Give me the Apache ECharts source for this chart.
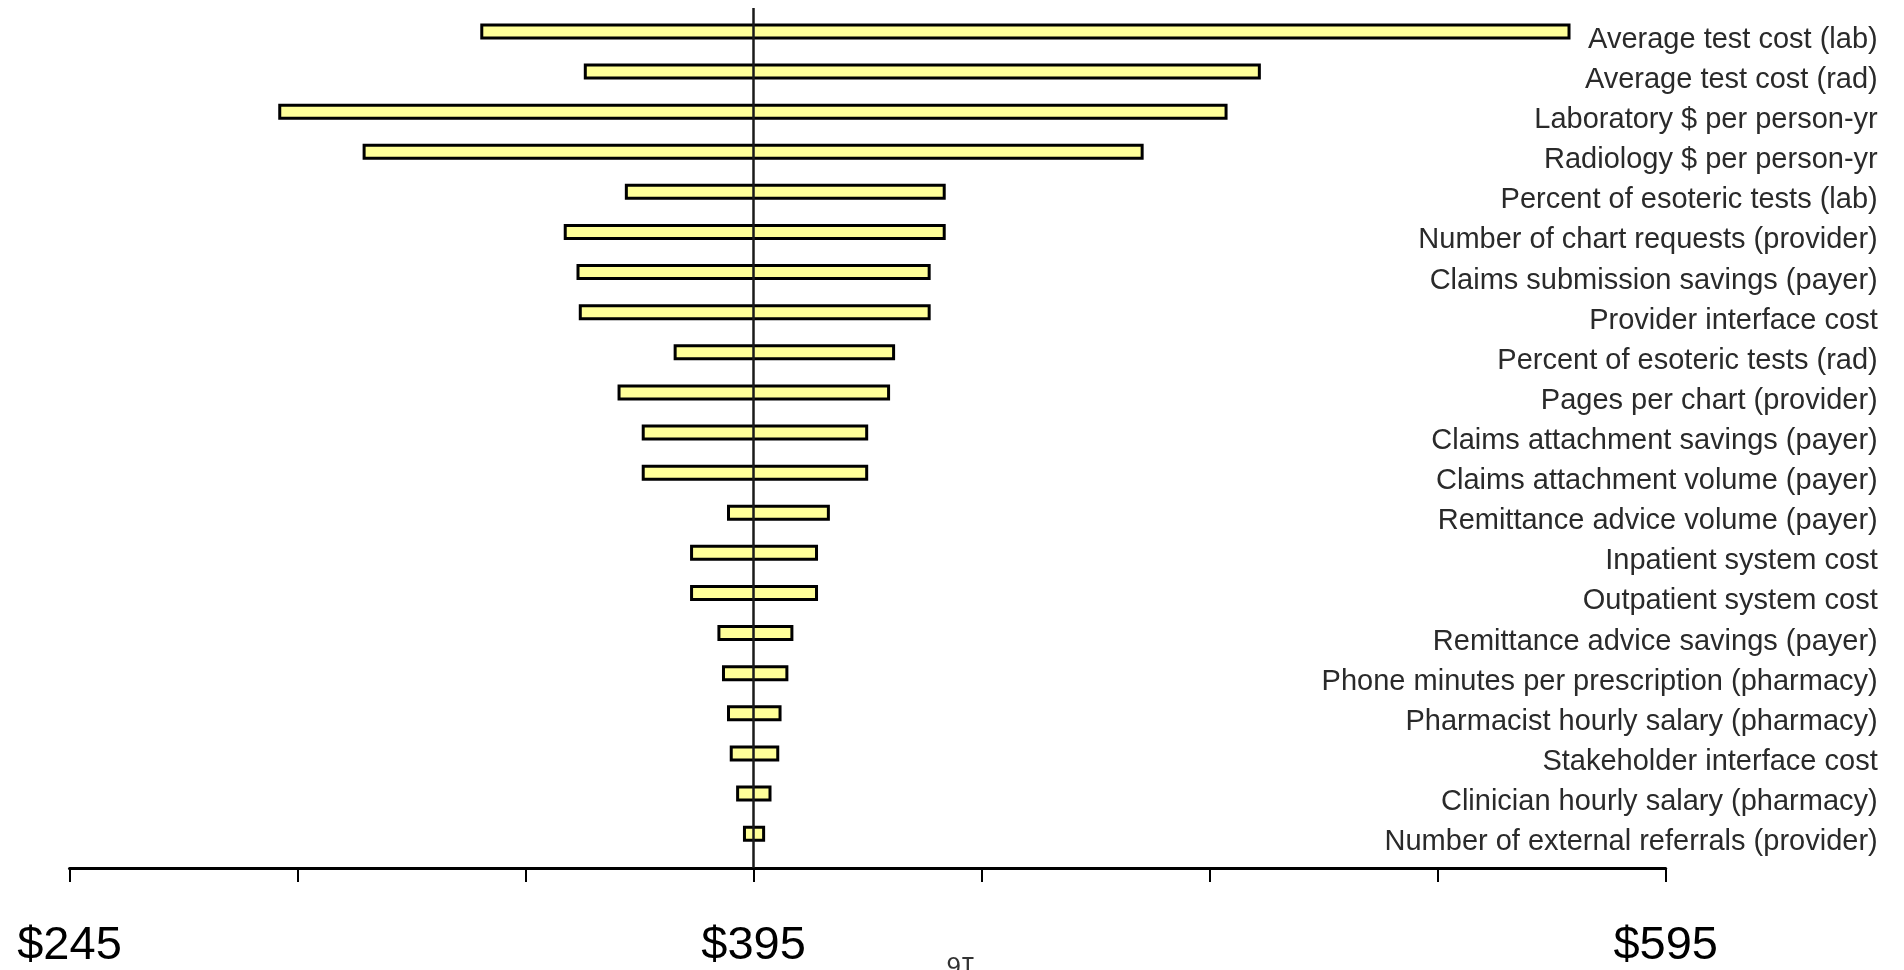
<!DOCTYPE html>
<html>
<head>
<meta charset="utf-8">
<style>
html,body{margin:0;padding:0;background:#ffffff;}
#chart{width:1904px;height:970px;}
</style>
<script src="https://cdn.jsdelivr.net/npm/echarts@6/dist/echarts.min.js"></script>
</head>
<body>
<div id="chart"></div>
<script>
// ---- data ----
const categories = [
  'Average test cost (lab)',
  'Average test cost (rad)',
  'Laboratory $ per person-yr',
  'Radiology $ per person-yr',
  'Percent of esoteric tests (lab)',
  'Number of chart requests (provider)',
  'Claims submission savings (payer)',
  'Provider interface cost',
  'Percent of esoteric tests (rad)',
  'Pages per chart (provider)',
  'Claims attachment savings (payer)',
  'Claims attachment volume (payer)',
  'Remittance advice volume (payer)',
  'Inpatient system cost',
  'Outpatient system cost',
  'Remittance advice savings (payer)',
  'Phone minutes per prescription (pharmacy)',
  'Pharmacist hourly salary (pharmacy)',
  'Stakeholder interface cost',
  'Clinician hourly salary (pharmacy)',
  'Number of external referrals (provider)'
];
const lowValues  = [335.4, 358.1, 291.1, 309.6, 367.1, 353.7, 356.5, 357.0, 377.8, 365.5, 370.8, 370.8, 389.5, 381.4, 381.4, 387.4, 388.4, 389.5, 390.1, 391.5, 393.0];
const highValues = [573.8, 505.9, 498.6, 480.2, 436.8, 436.8, 433.5, 433.5, 425.7, 424.6, 419.8, 419.8, 411.4, 408.8, 408.8, 403.4, 402.3, 400.8, 400.3, 398.6, 397.2];
const baseValue = 395;
const axisTickValues = [245, 295, 345, 395, 445, 495, 545, 595];
const axisLabelValues = [245, 395, 595];
const pageNumber = '16';

// ---- chart ----
const FONT = "'Liberation Sans', Arial, Helvetica, sans-serif";
const rows = categories.map((c, i) => [i, lowValues[i], highValues[i]]);
const rowIndex = categories.map((c, i) => i);

const chart = echarts.init(document.getElementById('chart'), null, {renderer: 'canvas'});
chart.setOption({
  backgroundColor: '#ffffff',
  animation: false,
  textStyle: {fontFamily: FONT},
  grid: {left: 69.5, right: 238.3, top: 8, bottom: 99, containLabel: false},
  xAxis: {
    type: 'value',
    position: 'bottom',
    min: 245,
    max: 595,
    axisLine: {show: true, onZero: false, lineStyle: {color: '#000000', width: 3}},
    axisTick: {show: true, customValues: axisTickValues, length: 14, lineStyle: {color: '#000000', width: 2}},
    axisLabel: {
      show: true,
      customValues: axisLabelValues,
      formatter: v => '$' + v,
      fontSize: 47,
      fontFamily: FONT,
      color: '#000000',
      margin: 55
    },
    splitLine: {show: false}
  },
  yAxis: {
    type: 'value',
    position: 'right',
    inverse: true,
    min: -0.584,
    max: 20.857,
    axisLine: {show: false, onZero: false},
    axisTick: {show: false},
    splitLine: {show: false},
    axisLabel: {
      show: true,
      customValues: rowIndex,
      formatter: v => categories[Math.round(v)] || '',
      align: 'right',
      verticalAlign: 'top',
      lineHeight: 17,
      margin: 212,
      fontSize: 29,
      fontFamily: FONT,
      color: '#2a2a2a'
    }
  },
  series: [{
    type: 'custom',
    name: 'range',
    data: rows,
    encode: {y: 0, x: [1, 2]},
    renderItem: function (params, api) {
      const idx = api.value(0);
      const lo = api.coord([api.value(1), idx]);
      const hi = api.coord([api.value(2), idx]);
      const h = 13;
      return {
        type: 'rect',
        shape: {x: lo[0], y: lo[1] - h / 2, width: hi[0] - lo[0], height: h},
        style: {fill: '#FFFF99', stroke: '#000000', lineWidth: 3}
      };
    },
    markLine: {
      silent: true,
      symbol: ['none', 'none'],
      label: {show: false},
      lineStyle: {color: '#1a1a1a', width: 2.5, type: 'solid'},
      z: 10,
      data: [{xAxis: baseValue}]
    }
  }],
  graphic: [{
    type: 'text',
    x: 961,
    y: 964,
    rotation: Math.PI,
    style: {
      text: pageNumber,
      fontSize: 26,
      fontFamily: FONT,
      fill: '#333333',
      align: 'center',
      verticalAlign: 'middle'
    }
  }]
});
</script>
</body>
</html>
